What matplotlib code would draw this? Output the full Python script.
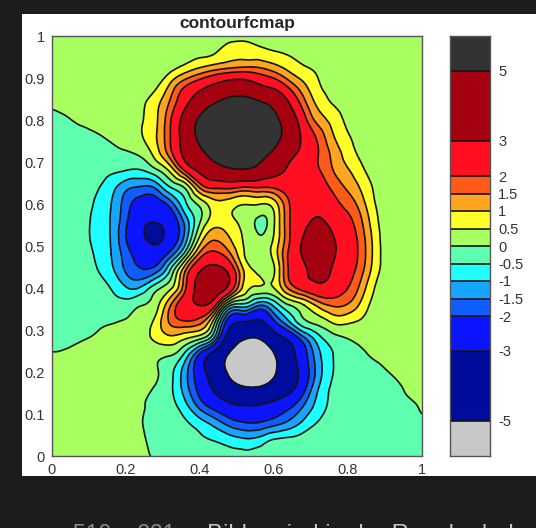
import numpy as np
import matplotlib
matplotlib.use("Agg")
from matplotlib import pyplot as plt
from matplotlib.patches import Rectangle
from matplotlib.tri import Triangulation, UniformTriRefiner

# values, one row per y, top row first
x_grid = np.arange(26) * 0.04
y_grid = 1 - np.arange(26) * 0.04
z_rows = [
    [.01,.01,.01,.02,.02,.03,.04,.06,.09,.13,.2,.28,.34,.36,.33,.27,.2,.14,.09,.06,.04,.02,.01,.01,.01,.01],
    [.01,.01,.02,.02,.03,.05,.07,.1,.16,.27,.38,.48,.72,.78,.68,.55,.45,.33,.22,.14,.09,.05,.03,.02,.01,.01],
    [.01,.01,.02,.03,.04,.07,.12,.22,.4,.78,1.15,1.45,1.65,1.75,1.65,1.35,.92,.6,.43,.27,.17,.1,.06,.04,.02,.01],
    [.01,.01,.02,.04,.06,.1,.18,.42,1.15,2.0,2.65,3.3,3.85,3.9,3.25,2.75,1.9,1.15,.56,.36,.22,.13,.07,.04,.02,.01],
    [.01,.02,.03,.05,.09,.16,.38,.82,1.6,2.75,4.0,5.0,5.6,5.7,5.25,4.5,3.05,1.7,.85,.47,.28,.17,.09,.05,.03,.02],
    [-.03,-.01,.02,.05,.1,.2,.45,.9,1.95,3.6,5.3,6.4,7.5,7.6,6.9,5.5,4.0,2.3,1.3,.8,.38,.22,.13,.08,.05,.03],
    [-.09,-.07,-.05,-.02,.03,.14,.45,.95,2.0,3.7,5.4,6.6,7.8,8.0,7.3,5.7,4.2,2.75,1.85,1.05,.55,.28,.15,.09,.06,.03],
    [-.16,-.15,-.14,-.12,-.09,-.04,.1,.72,1.8,3.4,4.6,5.6,6.5,6.8,5.9,4.6,3.4,2.7,2.0,1.35,.75,.38,.2,.12,.07,.04],
    [-.2,-.22,-.25,-.3,-.4,-.5,-.53,-.12,.65,2.1,3.3,4.2,4.7,4.8,4.3,3.45,2.85,2.35,2.05,1.5,1.05,.56,.28,.16,.1,.05],
    [-.22,-.26,-.3,-.45,-.8,-1.35,-1.55,-1.4,-.5,.1,1.6,2.15,2.2,2.0,2.05,2.1,2.4,2.35,2.3,1.85,1.4,.85,.36,.2,.12,.07],
    [-.24,-.29,-.38,-.55,-1,-1.75,-2.3,-2.35,-1.75,-.6,.15,.8,.72,.52,.52,.75,1.95,2.5,2.7,2.25,1.8,1.15,.42,.22,.13,.08],
    [-.25,-.3,-.4,-.6,-1.05,-1.9,-2.75,-2.95,-2.5,-1.3,-.05,.75,.62,.3,-.08,.45,1.9,2.75,3.1,2.65,2.15,1.45,.53,.24,.14,.08],
    [-.25,-.3,-.4,-.6,-1.05,-2,-2.8,-3.2,-2.6,-1.3,.6,1.4,1.0,.42,.05,.55,1.9,3.05,3.5,3.05,2.35,1.65,.62,.25,.14,.08],
    [-.23,-.28,-.37,-.55,-1,-1.75,-2.35,-2.55,-1.75,-.2,1.7,2.2,1.6,.5,.12,.7,2.1,3.15,3.75,3.15,2.4,1.7,.65,.26,.15,.09],
    [-.2,-.24,-.32,-.47,-.85,-1.55,-1.9,-1.65,-.4,1.5,3.0,3.5,2.7,.95,.35,.45,2.05,2.85,3.35,2.85,2.25,1.55,.58,.27,.15,.09],
    [-.17,-.2,-.25,-.35,-.52,-.95,-.92,-.2,.4,1.9,3.5,3.8,2.6,.8,.42,.5,1.6,2.3,2.7,2.45,2.0,1.2,.38,.2,.11,.07],
    [-.14,-.16,-.2,-.25,-.32,-.3,-.03,.3,1.45,2.6,3.05,2.2,-.3,-.65,-1.4,-.85,0,.5,1.2,1.6,1.45,.8,.25,.15,.08,.04],
    [-.1,-.1,-.09,-.07,-.03,.04,.2,.65,1.6,1.95,1.7,.1,-2.5,-3,-3.2,-2.1,-1.05,-.12,.2,.6,.6,.4,.15,.08,.04,.02],
    [-.05,-.04,-.01,.02,.06,.13,.32,.6,.85,.55,.1,-1.2,-3.8,-4.9,-4.95,-3.8,-2.8,-1.65,-.7,-.2,.01,.1,.06,.03,.02,.01],
    [.01,.02,.04,.06,.08,.1,.11,.1,.02,-.7,-2.2,-3.6,-5.2,-6.2,-6.2,-5.1,-3.6,-2.3,-1.15,-.5,-.25,-.05,.03,.02,.01,.01],
    [.02,.03,.05,.07,.09,.09,.08,.04,-.35,-1.3,-2.55,-3.8,-5.3,-6.4,-6.4,-5.2,-3.9,-2.5,-1.25,-.5,-.35,-.2,-.06,.01,.01,.01],
    [.02,.03,.05,.06,.07,.06,.05,-.03,-.4,-1.25,-2.25,-3.2,-4.15,-4.7,-4.7,-4.15,-3.4,-2.2,-1,-.42,-.3,-.2,-.1,-.04,.01,.01],
    [.01,.02,.03,.04,.05,.04,.01,-.07,-.33,-.85,-1.7,-2.3,-2.8,-3.0,-2.95,-2.65,-2.2,-1.5,-.78,-.38,-.27,-.18,-.11,-.06,-.02,.01],
    [.01,.01,.02,.03,.03,.02,.005,-.07,-.2,-.43,-.8,-1.25,-1.75,-2.0,-2,-1.75,-1.4,-.9,-.47,-.28,-.2,-.14,-.09,-.05,-.03,-.01],
    [.005,.005,.01,.01,.01,.01,.01,-.04,-.12,-.26,-.42,-.55,-.78,-.95,-.85,-.5,-.4,-.28,-.2,-.14,-.1,-.07,-.05,-.03,-.02,-.01],
    [.003,.003,.004,.005,.005,.005,.005,-.01,-.06,-.13,-.2,-.27,-.31,-.33,-.3,-.25,-.2,-.16,-.12,-.09,-.06,-.04,-.03,-.02,-.01,-.01],
]
levels = [-5, -3, -2, -1.5, -1, -0.5, 0, 0.5, 1, 1.5, 2, 3, 5]
band_colors = ['#c8c8c8', '#000c9c', '#0a14ff', '#0f5cff', '#18a5ff', '#1fffff', '#5fffb0',
               '#a8ff60', '#ffff2a', '#ffa51f', '#ff5a18', '#ff0f20', '#a5000f', '#333333']
bar_edges = [-6] + levels + [6]
tick_labels = ['-5', '-3', '-2', '-1.5', '-1', '-0.5', '0', '0.5', '1', '1.5', '2', '3', '5']

plt.rcParams['font.family'] = ['Liberation Sans', 'DejaVu Sans']
W, H = 536, 528
fig = plt.figure(figsize=(W / 100, H / 100), dpi=100, facecolor='#1c1c1c')
fig.add_artist(Rectangle((22 / W, 1 - 476 / H), (W - 22) / W, (476 - 14) / H, zorder=-1,
                         transform=fig.transFigure, facecolor='white', edgecolor='none'))

ax = fig.add_axes([52 / W, 1 - 456 / H, 370 / W, 420 / H])
xx, yy = np.meshgrid(x_grid, y_grid)
tri = Triangulation(xx.ravel(), yy.ravel())
# the library's refiner only rounds the contour corners, the grid stays as read
fine_tri, fine_z = UniformTriRefiner(tri).refine_field(np.array(z_rows).ravel(), subdiv=3)
ax.tricontourf(fine_tri, fine_z, levels=levels, colors=band_colors, extend='both')
ax.tricontour(fine_tri, fine_z, levels=levels, colors='#141414', linewidths=1.2, linestyles='solid')
ax.set_xlim(0, 1)
ax.set_ylim(0, 1)
ax.set_xticks(np.arange(0, 1.01, 0.2), ['0', '0.2', '0.4', '0.6', '0.8', '1'])
ax.set_yticks(np.arange(0, 1.01, 0.1), ['0', '0.1', '0.2', '0.3', '0.4', '0.5', '0.6', '0.7', '0.8', '0.9', '1'])
ax.tick_params(length=0, labelsize=10.5, colors='#333333', pad=5)
for s in ax.spines.values():
    s.set_color('#555555')
    s.set_linewidth(1.0)
ax.set_title('contourfcmap', fontsize=12.5, fontweight='bold', color='#262626', pad=6)

# colorbar, linear scale
cax = fig.add_axes([450 / W, 1 - 456 / H, 40 / W, 420 / H])
for i in range(len(band_colors)):
    cax.bar(0.5, bar_edges[i + 1] - bar_edges[i], bottom=bar_edges[i], width=1,
            color=band_colors[i], edgecolor='none')
cax.hlines(levels, 0, 1, colors='#141414', linewidth=1.2)
cax.set_xlim(0, 1)
cax.set_ylim(-6, 6)
cax.set_xticks([])
cax.yaxis.tick_right()
cax.set_yticks(levels, tick_labels)
cax.tick_params(length=0, labelsize=10.5, colors='#333333', pad=6)
for s in cax.spines.values():
    s.set_color('#555555')
    s.set_linewidth(1.0)

fig.text(73 / W, 1 - 541 / H, '510 × 221', color='#8a8a8a', fontsize=16.5, va='baseline')
fig.text(207 / W, 1 - 541 / H, 'Bilder sind in der Regel urheberrechtlich geschützt', color='#c4c4c4',
         fontsize=17.2, va='baseline')

fig.savefig('out.png', dpi=100, facecolor=fig.get_facecolor())
